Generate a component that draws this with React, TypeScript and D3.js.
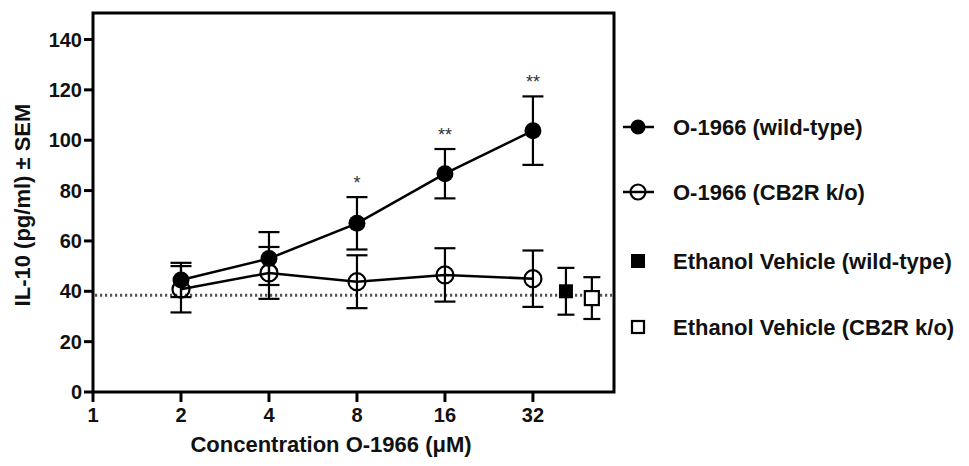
import React from "react";
import * as d3 from "d3";

const concentrations = [2, 4, 8, 16, 32];
const wtMean = [44.5, 53, 67, 86.7, 103.8];
const wtSem = [6.8, 10.5, 10.4, 9.8, 13.6];
const koMean = [40.8, 47.3, 43.8, 46.5, 45];
const koSem = [9.2, 10.3, 10.5, 10.6, 11.2];
const vehicleX = [41.5, 50.9];
const vehicleMean = [40, 37.3];
const vehicleSem = [9.3, 8.3];
const baseline = 38.4;
const xTicks = [1, 2, 4, 8, 16, 32];
const yTicks = [0, 20, 40, 60, 80, 100, 120, 140];
const stars = ["", "", "*", "**", "**"];
const legendLabels = [
  "O-1966 (wild-type)",
  "O-1966 (CB2R k/o)",
  "Ethanol Vehicle (wild-type)",
  "Ethanol Vehicle (CB2R k/o)",
];

const FONT = "'Liberation Sans', Arial, Helvetica, sans-serif";

export default function App() {
  const left = 93, right = 614, top = 13, bottom = 392;
  const x = d3.scaleLog().base(2).domain([1, 60.6]).range([left, right]);
  const y = d3.scaleLinear().domain([0, 140]).range([bottom, 39.5]);
  const line = d3.line<number>().x((d, i) => x(concentrations[i])).y((d) => y(d));

  const errBar = (cx: number, m: number, s: number, hw: number, key: string) => (
    <g key={key} stroke="#000" strokeWidth={2.2}>
      <line x1={cx} x2={cx} y1={y(m + s)} y2={y(m - s)} />
      <line x1={cx - hw} x2={cx + hw} y1={y(m + s)} y2={y(m + s)} />
      <line x1={cx - hw} x2={cx + hw} y1={y(m - s)} y2={y(m - s)} />
    </g>
  );

  const legendY = [127, 192, 261, 327];
  const lx = 638;

  return (
    <svg
      width={969}
      height={466}
      style={{ position: "absolute", left: 0, top: 0, background: "#fff" }}
      fontFamily={FONT}
    >
      <rect x={0} y={0} width={969} height={466} fill="#fff" />
      {/* baseline dotted */}
      <line
        x1={left + 2}
        x2={right - 2}
        y1={y(baseline)}
        y2={y(baseline)}
        stroke="#555"
        strokeWidth={3}
        strokeDasharray="2.2 2.8"
      />
      {/* frame */}
      <path
        d={`M${left},${bottom} L${left},${top} L${right},${top} L${right},${bottom} Z`}
        fill="none"
        stroke="#000"
        strokeWidth={3}
      />
      {/* y ticks */}
      {yTicks.map((t) => (
        <g key={"y" + t}>
          <line x1={left - 9} x2={left} y1={y(t)} y2={y(t)} stroke="#000" strokeWidth={3} />
          <text
            x={left - 11}
            y={y(t)}
            dy="0.36em"
            textAnchor="end"
            fontSize={20}
            fontWeight="bold"
            fill="#111"
          >
            {t}
          </text>
        </g>
      ))}
      {/* x ticks */}
      {xTicks.map((t) => (
        <g key={"x" + t}>
          <line x1={x(t)} x2={x(t)} y1={bottom} y2={bottom + 10} stroke="#000" strokeWidth={3} />
          <text
            x={x(t)}
            y={bottom + 23}
            dy="0.36em"
            textAnchor="middle"
            fontSize={20}
            fontWeight="bold"
            fill="#111"
          >
            {t}
          </text>
        </g>
      ))}
      {/* axis titles */}
      <text
        x={331}
        y={452}
        textAnchor="middle"
        fontSize={22}
        fontWeight="bold"
        fill="#111"
      >
        Concentration O-1966 (μM)
      </text>
      <text
        transform="translate(30,205) rotate(-90)"
        textAnchor="middle"
        fontSize={22}
        fontWeight="bold"
        fill="#111"
      >
        IL-10 (pg/ml) ± SEM
      </text>

      {/* error bars */}
      {concentrations.map((c, i) => errBar(x(c), wtMean[i], wtSem[i], 10.5, "we" + i))}
      {concentrations.map((c, i) => errBar(x(c), koMean[i], koSem[i], 10.5, "ke" + i))}
      {vehicleX.map((c, i) => errBar(x(c), vehicleMean[i], vehicleSem[i], 8.5, "ve" + i))}

      {/* lines */}
      <path d={line(wtMean) || ""} fill="none" stroke="#000" strokeWidth={2.5} />
      <path d={line(koMean) || ""} fill="none" stroke="#000" strokeWidth={2.5} />

      {/* markers */}
      {concentrations.map((c, i) => (
        <circle key={"km" + i} cx={x(c)} cy={y(koMean[i])} r={8.5} fill="none" stroke="#000" strokeWidth={2.2} />
      ))}
      {concentrations.map((c, i) => (
        <circle key={"wm" + i} cx={x(c)} cy={y(wtMean[i])} r={8.5} fill="#000" />
      ))}
      <rect x={x(vehicleX[0]) - 7} y={y(vehicleMean[0]) - 7} width={14} height={14} fill="#000" />
      <rect
        x={x(vehicleX[1]) - 7}
        y={y(vehicleMean[1]) - 7}
        width={14}
        height={14}
        fill="#fff"
        stroke="#000"
        strokeWidth={2.2}
      />

      {/* significance stars */}
      {concentrations.map((c, i) =>
        stars[i] ? (
          <text
            key={"s" + i}
            x={x(c)}
            y={y(wtMean[i] + wtSem[i]) - 8}
            textAnchor="middle"
            fontSize={18}
            fill="#333"
          >
            {stars[i]}
          </text>
        ) : null
      )}

      {/* legend */}
      <g>
        <line x1={lx - 15} x2={lx + 16} y1={legendY[0]} y2={legendY[0]} stroke="#000" strokeWidth={2.5} />
        <circle cx={lx} cy={legendY[0]} r={7.5} fill="#000" />
        <line x1={lx - 15} x2={lx + 16} y1={legendY[1]} y2={legendY[1]} stroke="#000" strokeWidth={2.5} />
        <circle cx={lx} cy={legendY[1]} r={7.5} fill="none" stroke="#000" strokeWidth={2.2} />
        <rect x={lx - 7} y={legendY[2] - 7} width={14} height={14} fill="#000" />
        <rect x={lx - 6} y={legendY[3] - 6} width={12} height={12} fill="#fff" stroke="#000" strokeWidth={2.2} />
        {legendLabels.map((l, i) => (
          <text
            key={"l" + i}
            x={673}
            y={legendY[i]}
            dy="0.36em"
            fontSize={22}
            fontWeight="bold"
            fill="#111"
          >
            {l}
          </text>
        ))}
      </g>
    </svg>
  );
}
